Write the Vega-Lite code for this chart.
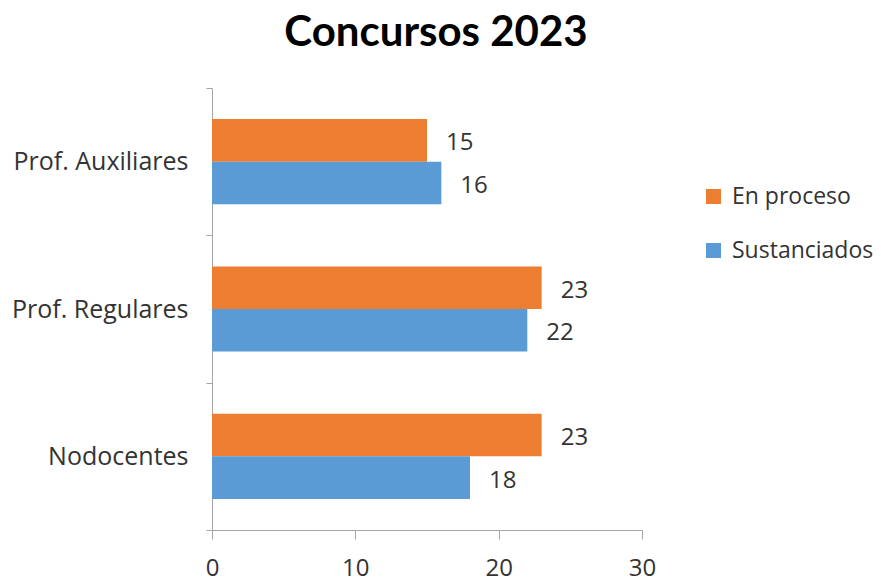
{
  "$schema": "https://vega.github.io/schema/vega-lite/v6.json",
  "width": 430,
  "height": 442,
  "autosize": {"type": "none"},
  "padding": {"left": 212, "top": 88, "right": 239, "bottom": 52},
  "background": "white",
  "title": {
    "text": "Concursos 2023",
    "font": "Lato",
    "fontSize": 42,
    "fontWeight": "bold",
    "color": "#000000",
    "anchor": "middle",
    "offset": 21,
    "dx": 9
  },
  "config": {
    "view": {"stroke": null},
    "font": "Open Sans"
  },
  "data": {
    "values": [
      {"categoria": "Prof. Auxiliares", "estado": "En proceso", "valor": 15},
      {"categoria": "Prof. Auxiliares", "estado": "Sustanciados", "valor": 16},
      {"categoria": "Prof. Regulares", "estado": "En proceso", "valor": 23},
      {"categoria": "Prof. Regulares", "estado": "Sustanciados", "valor": 22},
      {"categoria": "Nodocentes", "estado": "En proceso", "valor": 23},
      {"categoria": "Nodocentes", "estado": "Sustanciados", "valor": 18}
    ]
  },
  "encoding": {
    "y": {
      "field": "categoria",
      "type": "nominal",
      "sort": ["Prof. Auxiliares", "Prof. Regulares", "Nodocentes"],
      "scale": {"paddingInner": 0, "paddingOuter": 0},
      "axis": {
        "title": null,
        "tickBand": "extent",
        "domainColor": "#A6A6A6",
        "tickColor": "#A6A6A6",
        "tickSize": 6,
        "labelFontSize": 25,
        "labelColor": "#333333",
        "labelPadding": 18,
        "labelFont": "Open Sans"
      }
    },
    "yOffset": {
      "field": "estado",
      "type": "nominal",
      "sort": ["En proceso", "Sustanciados"],
      "scale": {"paddingInner": 0, "paddingOuter": 0.73}
    },
    "x": {
      "field": "valor",
      "type": "quantitative",
      "scale": {"domain": [0, 30], "nice": false},
      "axis": {
        "title": null,
        "values": [0, 10, 20, 30],
        "grid": false,
        "domainColor": "#A6A6A6",
        "tickColor": "#A6A6A6",
        "tickSize": 9,
        "labelFontSize": 24,
        "labelColor": "#333333",
        "labelPadding": 17,
        "labelFont": "Open Sans",
        "labelFlush": false
      }
    }
  },
  "layer": [
    {
      "mark": {"type": "bar"},
      "encoding": {
        "color": {
          "field": "estado",
          "type": "nominal",
          "sort": ["En proceso", "Sustanciados"],
          "scale": {"domain": ["En proceso", "Sustanciados"], "range": ["#ED7D31", "#5B9BD5"]},
          "legend": {
            "title": null,
            "orient": "none",
            "legendX": 490,
            "legendY": 97,
            "symbolType": "square",
            "symbolSize": 225,
            "symbolStrokeWidth": 0,
            "labelFontSize": 23,
            "labelColor": "#333333",
            "labelFont": "Open Sans",
            "rowPadding": 30,
            "labelOffset": 7
          }
        }
      }
    },
    {
      "mark": {"type": "text", "align": "left", "baseline": "middle", "dx": 19, "dy": 3, "fontSize": 24, "color": "#333333", "font": "Open Sans"},
      "encoding": {
        "text": {"field": "valor", "type": "quantitative"}
      }
    }
  ]
}
